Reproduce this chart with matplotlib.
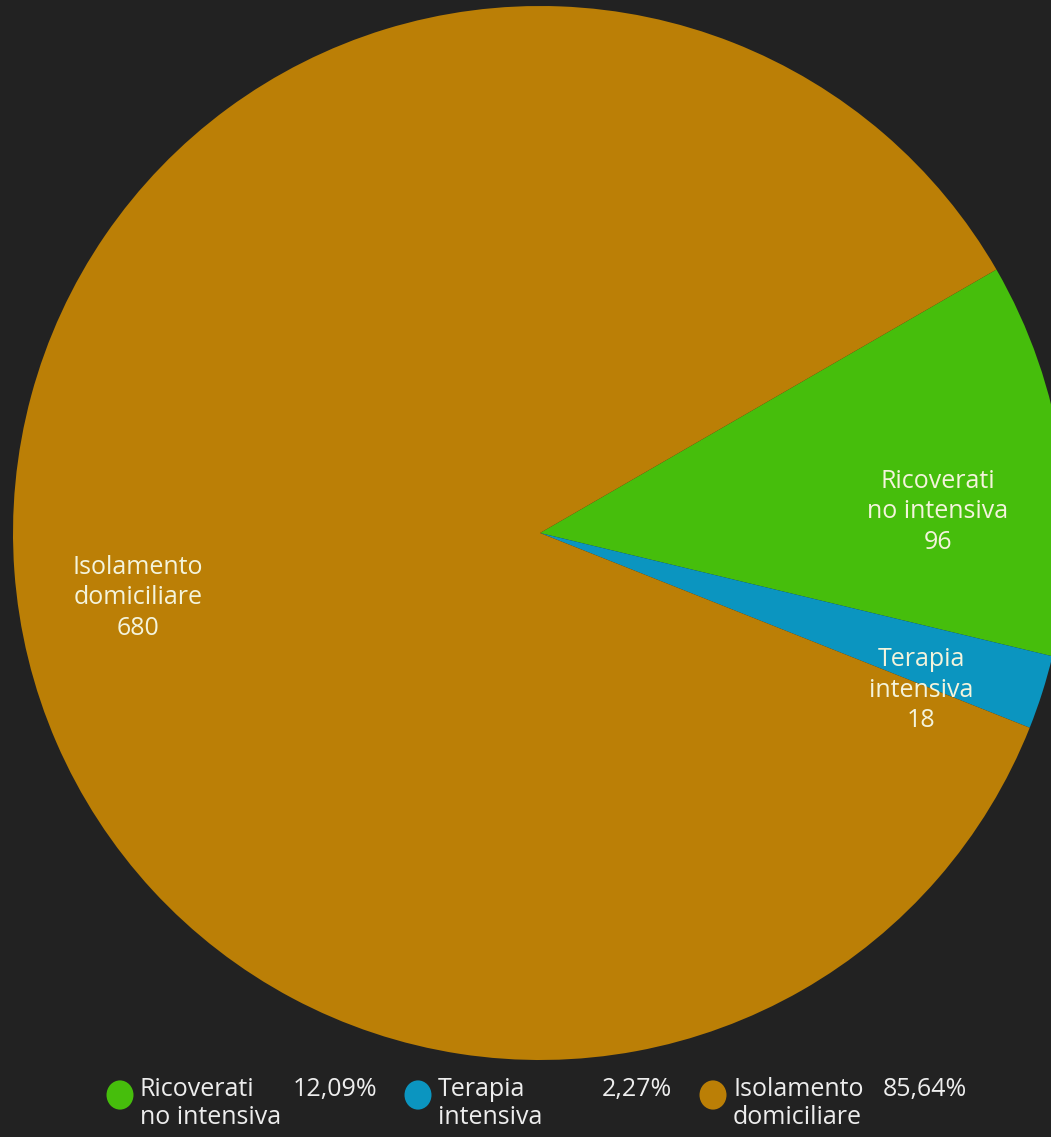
import matplotlib.pyplot as plt

labels = ["Ricoverati\nno intensiva", "Terapia\nintensiva", "Isolamento\ndomiciliare"]
values = [96, 18, 680]
colors = ["#46BE0C", "#0B95C0", "#BB7F06"]
# label anchor positions (fraction of radius)
label_pos = [(0.755, 0.04), (0.723, -0.298), (-0.763, -0.123)]

bg = "#222222"
W, H = 1051, 1137
fig = plt.figure(figsize=(W / 100, H / 100), dpi=100, facecolor=bg)
plt.rcParams['font.family'] = ['Open Sans', 'DejaVu Sans']

# pie centre (540, 533) px, radius 527 px
ax = fig.add_axes([13 / W, (H - 1060) / H, 1054 / W, 1054 / H])
ax.set_facecolor(bg)
ax.pie(values, colors=colors, startangle=30, counterclock=False, radius=1,
       wedgeprops=dict(linewidth=0))
ax.set_xlim(-1, 1)
ax.set_ylim(-1, 1)
ax.set_aspect('equal')
ax.axis('off')

for lab, v, (x, y) in zip(labels, values, label_pos):
    ax.text(x, y, f"{lab}\n{v}", ha='center', va='center', color="#F4F4DC",
            fontsize=18, linespacing=1.3)

# legend along the bottom
total = sum(values)
leg_x = [120, 418, 713]
pct_right = [377, 672, 967]
for lab, v, c, x0, xr in zip(labels, values, colors, leg_x, pct_right):
    fig.patches.append(plt.Circle((x0 / W, 1 - 1095 / H), 13.5 / W, transform=fig.transFigure,
                                  facecolor=c, edgecolor='none'))
    fig.text((x0 + 20) / W, 1 - 1077 / H, lab, ha='left', va='top', color="#EDEDED",
             fontsize=18, linespacing=1.15)
    pct = f"{v / total * 100:.2f}%".replace('.', ',')
    fig.text(xr / W, 1 - 1077 / H, pct, ha='right', va='top', color="#EDEDED", fontsize=18)

fig.savefig("out.png", dpi=100, facecolor=bg)
